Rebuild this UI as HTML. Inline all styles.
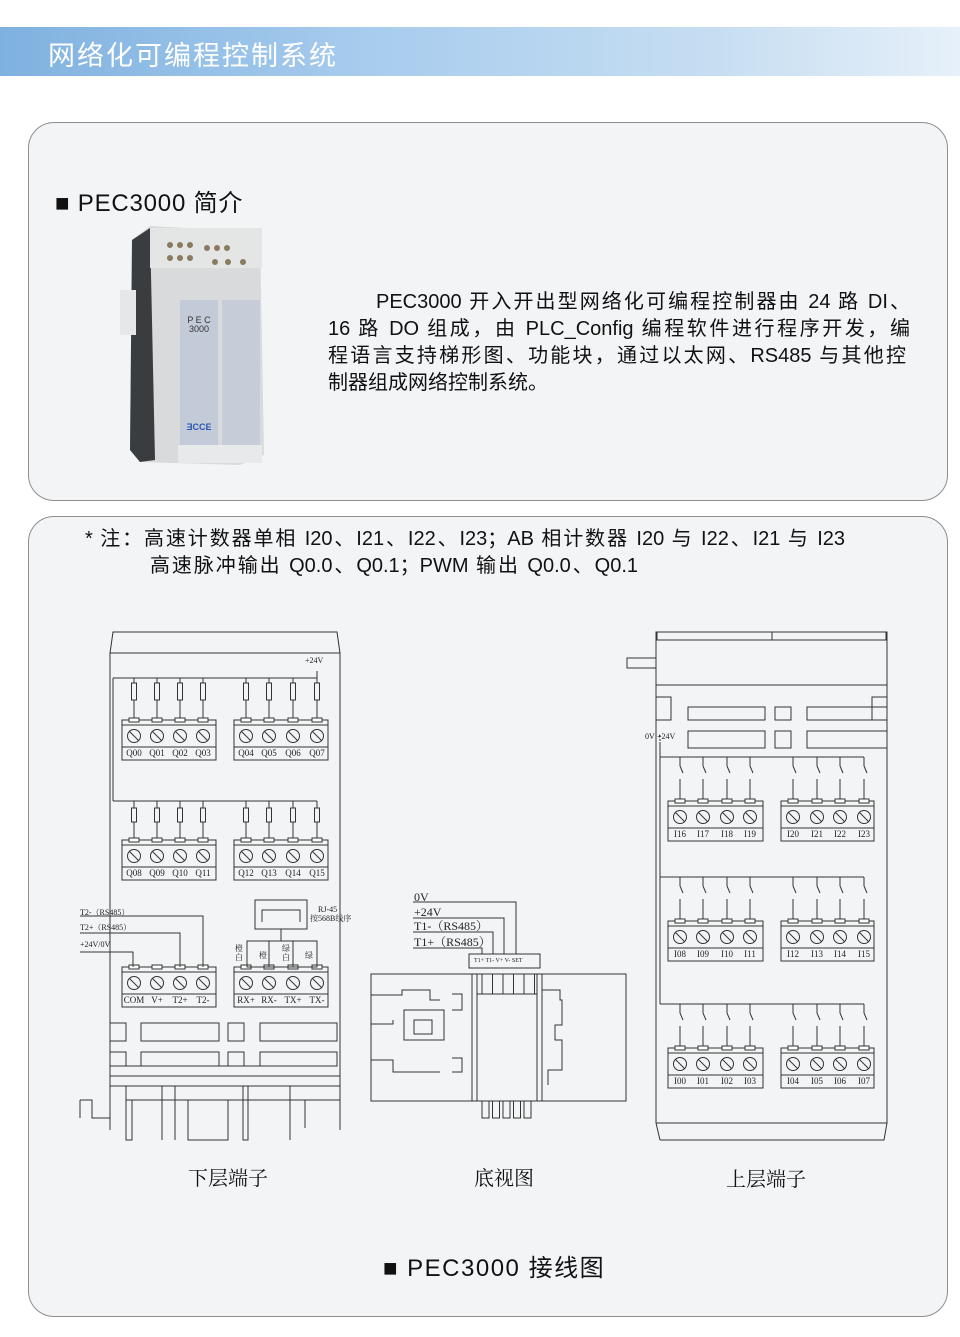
<!DOCTYPE html>
<html><head><meta charset="utf-8"><style>
body{margin:0;background:#fff;width:960px;height:1337px;position:relative;overflow:hidden;font-family:"Liberation Sans","Noto Sans CJK SC",sans-serif;}
.hdr{position:absolute;left:0;top:27px;width:960px;height:49px;background:linear-gradient(90deg,#7fb1df 0%,#a9cdee 40%,#c7def2 75%,#e6f0f9 100%);}
.hdr span{position:absolute;left:48px;top:7px;color:#fff;font-size:27px;letter-spacing:2px;}
.box{position:absolute;left:28px;width:918px;border:1px solid #8e8e8e;border-radius:26px;background:#f3f4f6;}
.t{position:absolute;color:#111;white-space:nowrap;}
.j{position:absolute;color:#111;white-space:nowrap;text-align:justify;text-align-last:justify;font-size:20px;height:27px;line-height:27px;}
</style></head><body>
<div class="hdr"><span>网络化可编程控制系统</span></div>
<div class="box" style="top:122px;height:377px"></div>
<div class="box" style="top:516px;height:799px"></div>
<div class="t" style="left:55px;top:183px;font-size:24px;letter-spacing:0.8px">■ PEC3000 简介</div>
<div class="j" style="left:376px;top:289px;width:534px">PEC3000 开入开出型网络化可编程控制器由 24 路 DI、</div>
<div class="j" style="left:328px;top:316px;width:582px">16 路 DO 组成，由 PLC_Config 编程软件进行程序开发，编</div>
<div class="j" style="left:328px;top:343px;width:578px">程语言支持梯形图、功能块，通过以太网、RS485 与其他控</div>
<div class="t" style="left:328px;top:370px;font-size:20px;line-height:27px">制器组成网络控制系统。</div>
<div class="j" style="left:85px;top:526px;width:760px">* 注：高速计数器单相 I20、I21、I22、I23；AB 相计数器 I20 与 I22、I21 与 I23</div>
<div class="j" style="left:150px;top:553px;width:488px">高速脉冲输出 Q0.0、Q0.1；PWM 输出 Q0.0、Q0.1</div>
<div class="t" style="left:383px;top:1248px;font-size:24px;letter-spacing:1.5px">■ PEC3000 接线图</div>
<div class="t" style="left:188px;top:1162px;font-size:20px;font-family:'Liberation Serif','Noto Serif CJK SC',serif">下层端子</div>
<div class="t" style="left:474px;top:1162px;font-size:20px;font-family:'Liberation Serif','Noto Serif CJK SC',serif">底视图</div>
<div class="t" style="left:726px;top:1163px;font-size:20px;font-family:'Liberation Serif','Noto Serif CJK SC',serif">上层端子</div>

<svg style="position:absolute;left:0;top:0" width="960" height="1337">
<g>
<polygon points="132,240 150,226 260,232 264,455 240,465 140,462 130,450" fill="#d8dadc"/>
<polygon points="132,240 150,228 155,460 140,462 130,450" fill="#3a3d40"/>
<rect x="120" y="290" width="16" height="45" fill="#e5e7e8"/>
<rect x="150" y="228" width="112" height="40" fill="#e4e5e5"/>
<g fill="#8a7a60"><circle cx="170" cy="245" r="3"/><circle cx="180" cy="245" r="3"/><circle cx="190" cy="245" r="3"/><circle cx="207" cy="248" r="3"/><circle cx="217" cy="248" r="3"/><circle cx="227" cy="248" r="3"/><circle cx="170" cy="258" r="3"/><circle cx="180" cy="258" r="3"/><circle cx="190" cy="258" r="3"/><circle cx="215" cy="262" r="3"/><circle cx="228" cy="262" r="3"/><circle cx="243" cy="262" r="3"/></g>
<rect x="180" y="300" width="38" height="145" fill="#c3cbd8"/>
<rect x="222" y="300" width="38" height="145" fill="#c6ccd8"/>
<rect x="178" y="445" width="84" height="18" fill="#e8e9ea"/>
<text x="199" y="323" font-size="9" text-anchor="middle" fill="#333" font-family="Liberation Sans">P E C</text>
<text x="199" y="332" font-size="9" text-anchor="middle" fill="#333" font-family="Liberation Sans">3000</text>
<text x="199" y="430" font-size="9" text-anchor="middle" fill="#2855b0" font-weight="bold" font-family="Liberation Sans">ƎCCE</text>
</g>
<g stroke="#333" stroke-width="1" fill="none" id="d"></g>
<g font-family="Liberation Serif,Noto Serif CJK SC,serif" fill="#222" font-size="9" id="tx">
<text x="305" y="663" font-size="8">+24V</text>
<text x="80" y="915" font-size="8">T2-（RS485）</text>
<text x="80" y="930" font-size="8">T2+（RS485）</text>
<text x="80" y="947" font-size="8">+24V/0V</text>
<text x="318" y="912" font-size="8">RJ-45</text>
<text x="310" y="921" font-size="8">按568B线序</text>
<text x="235" y="951" font-size="8">橙</text><text x="235" y="960" font-size="8">白</text>
<text x="259" y="958" font-size="8">橙</text>
<text x="282" y="951" font-size="8">绿</text><text x="282" y="960" font-size="8">白</text>
<text x="305" y="958" font-size="8">绿</text>
<text x="645" y="739" font-size="8">0V</text><text x="657" y="739" font-size="8">+24V</text>
<text x="414" y="901" font-size="12">0V</text>
<text x="414" y="916" font-size="12">+24V</text>
<text x="414" y="930" font-size="12">T1-（RS485）</text>
<text x="414" y="946" font-size="12">T1+（RS485）</text>
<text x="474" y="962" font-size="6">T1+ T1- V+ V- SET</text>
</g>
</svg>
<script>
var NS="http://www.w3.org/2000/svg",d=document.getElementById('d'),tx=document.getElementById('tx');
function el(n,a,p){var e=document.createElementNS(NS,n);for(var k in a)e.setAttribute(k,a[k]);(p||d).appendChild(e);return e;}
function L(x1,y1,x2,y2,ex){var a={x1:x1,y1:y1,x2:x2,y2:y2};if(ex)a['stroke-dasharray']=ex;el('line',a);}
function R(x,y,w,h){el('rect',{x:x,y:y,width:w,height:h});}
function P(pts){el('polyline',{points:pts});}
function block(x,y,w,labels,cx){
 R(x,y,w,40);L(x,y+5,x+w,y+5);L(x,y+27,x+w,y+27);
 for(var i=0;i<4;i++){var c=cx[i];el('rect',{x:c-5,y:y-2,width:10,height:4,fill:'#fff'});
  el('circle',{cx:c,cy:y+16,r:6.5});L(c-4.5,y+11.5,c+4.5,y+20.5);
  var t=el('text',{x:c,y:y+36,'text-anchor':'middle'},tx);t.textContent=labels[i];}
}
P("110,1130 110,653 113,632 337,632 340,653 340,1130");L(110,653,340,653);
L(113,678,317,678);L(317,671,317,678);L(113,678,113,801);L(113,801,317,801);
var q1=[134,157,180,203],q2=[246,269,293,317];
[q1,q2].forEach(function(a){a.forEach(function(x){L(x,678,x,683);R(x-2.5,683,5,17);L(x,700,x,720);L(x,801,x,808);R(x-2.5,808,5,14);L(x,822,x,840);});});
block(122,720,94,['Q00','Q01','Q02','Q03'],q1);block(234,720,94,['Q04','Q05','Q06','Q07'],q2);
block(122,840,94,['Q08','Q09','Q10','Q11'],q1);block(234,840,94,['Q12','Q13','Q14','Q15'],q2);
block(122,967,94,['COM','V+','T2+','T2-'],q1);block(234,967,94,['RX+','RX-','TX+','TX-'],q2);
P("80,916 203,916 203,967");P("80,933 180,933 180,967");P("80,952 133,952 133,967");
R(255,900,52,29);P("262,922 262,910 300,910 300,922");L(281,929,281,941);R(247,941,70,26);L(269,941,269,967);L(293,941,293,967);
R(110,1023,16,18);R(141,1023,78,18);R(228,1023,16,18);R(260,1023,77,18);
R(110,1052,16,14);R(141,1052,78,14);R(228,1052,16,14);R(260,1052,77,14);
L(123,1066,337,1066);L(110,1076,340,1076);L(110,1086,340,1086);L(126,1100,340,1100);
P("80,1100 92,1100 92,1118 110,1118");L(80,1100,80,1118);
P("126,1086 126,1140 132,1140 132,1100");L(162,1086,162,1140);L(175,1086,175,1140);R(188,1100,40,40);R(243,1086,5,54);P("290,1086 290,1140");P("300,1100 305,1100 305,1128");
P("413,902 516,902 516,954");P("413,918 504,918 504,954");P("413,932 493,932 493,954");P("413,948 482,948 482,954");
R(469,954,71,14);R(371,974,255,127);L(472,974,472,1101);L(477,974,477,1101);L(537,974,537,1101);L(542,974,542,1101);
for(var i=0;i<5;i++){R(482+i*10.5,1101,7,17);R(487+i*10.5-5,974,10.5,20);}
R(477,994,60,107);
P("371,995 402,995 402,990 430,990 430,1000 440,1000");R(404,1010,40,30);R(414,1020,18,14);P("371,1024 393,1024 393,1020");P("371,1060 393,1060 393,1072 440,1072");
P("452,994 462,994 462,1010 452,1010");P("452,1058 462,1058 462,1072 452,1072");
P("542,990 560,990 560,1000 562,1000 562,1025 555,1025 555,1040 562,1040 562,1070 548,1070 548,1085");
P("660,1140 656,1123 656,632 887,632 887,1123 884,1140 660,1140");L(656,1123,887,1123);
R(657,632,115,8);R(772,632,114,8);L(656,685,887,685);P("656,668 627,668 627,658 656,658");
R(688,707,77,13);R(775,707,16,13);R(807,707,80,13);R(688,731,77,17);R(775,731,16,17);R(807,731,80,17);
P("656,697 671,697 671,720 656,720");P("887,697 872,697 872,720 887,720");
L(660,742,660,1004);L(660,735,660,742,'2,2');
var s1=[680,703,727,750],s2=[793,817,840,864];
[757,877,1004].forEach(function(by,r){
 L(660,by,864,by);
 s1.concat(s2).forEach(function(x){L(x,by,x,by+9);L(x,by+9,x+3,by+16);L(x,by+22,x,[801,921,1048][r]);});
});
block(668,801,95,['I16','I17','I18','I19'],s1);block(781,801,93,['I20','I21','I22','I23'],s2);
block(668,921,95,['I08','I09','I10','I11'],s1);block(781,921,93,['I12','I13','I14','I15'],s2);
block(668,1048,95,['I00','I01','I02','I03'],s1);block(781,1048,93,['I04','I05','I06','I07'],s2);
</script>
</body></html>
